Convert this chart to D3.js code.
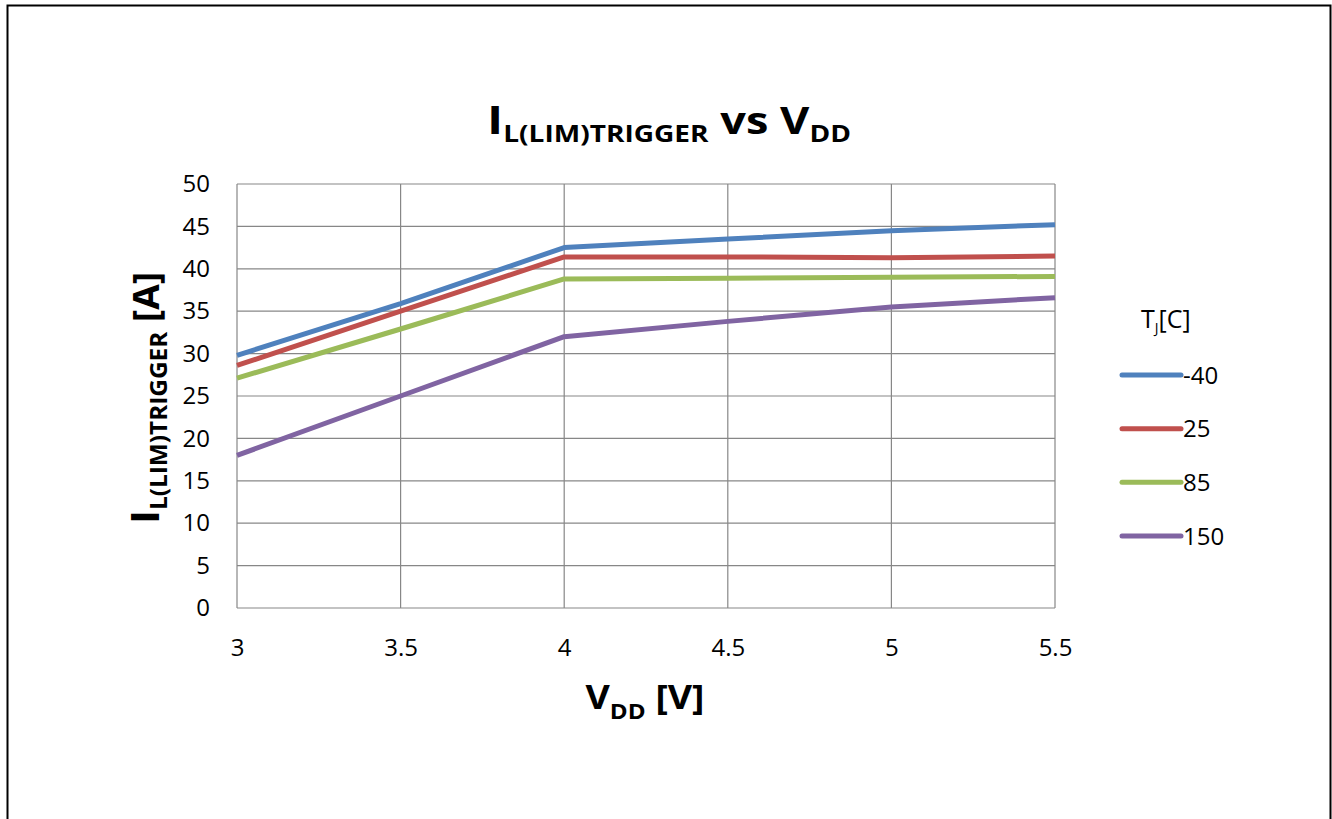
<!DOCTYPE html>
<html>
<head>
<meta charset="utf-8">
<script src="https://cdn.jsdelivr.net/npm/d3@7"></script>
<style>
  body { margin: 0; background: #fff; }
  svg { display: block; font-family: "Open Sans", "Noto Sans", sans-serif; }
</style>
</head>
<body>
<svg class="main"></svg>
<script>
// data
const vdd = [3, 3.5, 4, 4.5, 5, 5.5];
const tempLabels = ["-40", "25", "85", "150"];
const iMinus40 = [29.8, 35.9, 42.5, 43.5, 44.5, 45.2];
const i25 = [28.6, 35.0, 41.4, 41.4, 41.3, 41.5];
const i85 = [27.1, 32.9, 38.8, 38.9, 39.0, 39.1];
const i150 = [18.0, 25.0, 32.0, 33.8, 35.5, 36.6];
const xTicks = [3, 3.5, 4, 4.5, 5, 5.5];
const yTicks = [0, 5, 10, 15, 20, 25, 30, 35, 40, 45, 50];
const colors = ["#4F81BD", "#C0504D", "#9BBB59", "#8064A2"];

const width = 1332, height = 819;
const svg = d3.select("svg.main").attr("width", width).attr("height", height);

// outer frame (no bottom edge visible)
svg.append("path")
  .attr("d", "M7.5,830 V5.5 H1330.5 V830")
  .attr("fill", "none").attr("stroke", "#000").attr("stroke-width", 2);

const pLeft = 237, pRight = 1055, pTop = 184, pBottom = 608;
const x = d3.scaleLinear().domain([3, 5.5]).range([pLeft, pRight]);
const y = d3.scaleLinear().domain([0, 50]).range([pBottom, pTop]);

// grid
svg.append("g").selectAll("line").data(yTicks).join("line")
  .attr("x1", pLeft).attr("x2", pRight)
  .attr("y1", d => y(d)).attr("y2", d => y(d))
  .attr("stroke", "#878787").attr("stroke-width", 1.2);
svg.append("g").selectAll("line").data(xTicks).join("line")
  .attr("x1", d => x(d)).attr("x2", d => x(d))
  .attr("y1", pTop).attr("y2", pBottom)
  .attr("stroke", "#878787").attr("stroke-width", 1.2);

// axes
const yAxis = svg.append("g").attr("transform", `translate(${pLeft},0)`)
  .call(d3.axisLeft(y).tickValues(yTicks).tickSize(0).tickPadding(27));
const xAxis = svg.append("g").attr("transform", `translate(0,${pBottom})`)
  .call(d3.axisBottom(x).tickValues(xTicks).tickSize(0).tickPadding(31).tickFormat(d3.format("")));
[yAxis, xAxis].forEach(a => {
  a.select(".domain").remove();
  a.selectAll("text").attr("font-size", 24).attr("fill", "#000")
    .attr("font-family", "'Open Sans', 'Noto Sans', sans-serif");
});

// lines
const series = [iMinus40, i25, i85, i150];
const line = d3.line().x((d, i) => x(vdd[i])).y(d => y(d));
svg.append("g").selectAll("path").data(series).join("path")
  .attr("d", d => line(d))
  .attr("fill", "none")
  .attr("stroke", (d, i) => colors[i])
  .attr("stroke-width", 5)
  .attr("stroke-linejoin", "round");

// title
const title = svg.append("text").attr("transform", "translate(669,134) scale(1.22,1)")
  .attr("text-anchor", "middle").attr("font-weight", "bold").attr("fill", "#000");
title.append("tspan").attr("font-size", 40).text("I");
title.append("tspan").attr("font-size", 23).attr("dy", 8).text("L(LIM)TRIGGER");
title.append("tspan").attr("font-size", 37).attr("dy", -8).text(" vs V");
title.append("tspan").attr("font-size", 23).attr("dy", 8).text("DD");

// y label
const yl = svg.append("text")
  .attr("transform", "translate(159,398) rotate(-90) scale(1.06,1)")
  .attr("text-anchor", "middle").attr("font-weight", "bold").attr("fill", "#000");
yl.append("tspan").attr("font-size", 40).text("I");
yl.append("tspan").attr("font-size", 23).attr("dy", 8).text("L(LIM)TRIGGER");
yl.append("tspan").attr("font-size", 35).attr("dy", -8).text(" [A]");

// x label
const xl = svg.append("text").attr("transform", "translate(645,709) scale(1.1,1)")
  .attr("text-anchor", "middle").attr("font-weight", "bold").attr("fill", "#000");
xl.append("tspan").attr("font-size", 34).text("V");
xl.append("tspan").attr("font-size", 22).attr("dy", 10).text("DD");
xl.append("tspan").attr("font-size", 34).attr("dy", -10).text(" [V]");

// legend
const lt = svg.append("text").attr("x", 1141).attr("y", 328).attr("font-size", 25).attr("fill", "#000");
lt.append("tspan").text("T");
lt.append("tspan").attr("font-size", 14).attr("dy", 5).text("J");
lt.append("tspan").attr("dy", -5).text("[C]");

const legY = d3.scalePoint().domain(tempLabels).range([375, 536]);
const lg = svg.append("g").selectAll("g").data(tempLabels).join("g")
  .attr("transform", d => `translate(0,${legY(d)})`);
lg.append("line").attr("x1", 1122).attr("x2", 1181)
  .attr("stroke", (d, i) => colors[i]).attr("stroke-width", 5).attr("stroke-linecap", "round");
lg.append("text").attr("x", 1183).attr("dy", "0.36em").attr("font-size", 24).attr("fill", "#000").text(d => d);
</script>
</body>
</html>
